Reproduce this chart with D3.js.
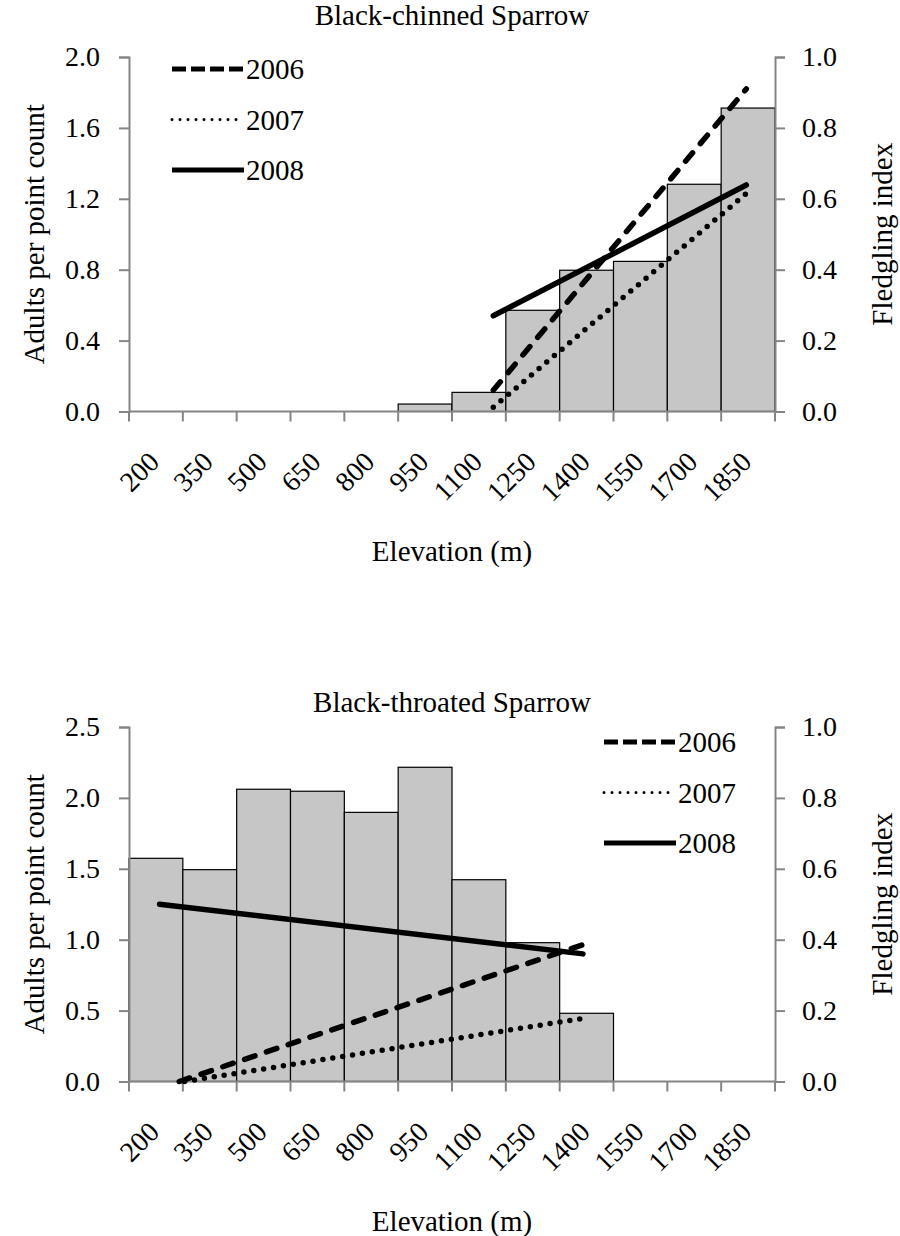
<!DOCTYPE html>
<html>
<head>
<meta charset="utf-8">
<script src="https://cdn.jsdelivr.net/npm/d3@7"></script>
<style>
  html, body { margin: 0; padding: 0; background: #fff; }
  svg { display: block; }
  svg text { font-family: "Liberation Serif", "Tinos", "Times New Roman", Times, "Nimbus Roman", "Nimbus Roman No9 L", "FreeSerif", "Noto Serif", "DejaVu Serif", serif; fill: #000; }
</style>
</head>
<body>
<svg id="chart" width="900" height="1236"></svg>
<script>
// Elevation classes (m), lower bound of each 150 m bin
const elevations = [200, 350, 500, 650, 800, 950, 1100, 1250, 1400, 1550, 1700, 1850];

// Adults per point count by elevation class
const chinnedAdults  = [0, 0, 0, 0, 0, 0.042, 0.108, 0.571, 0.797, 0.847, 1.282, 1.712];
const throatedAdults = [1.574, 1.494, 2.061, 2.047, 1.898, 2.216, 1.423, 0.979, 0.481, 0, 0, 0];

// Fledgling index trend lines: [elevation, index] endpoints
const chinned2006 = [[1140, 0.06], [1845, 0.91]];
const chinned2007 = [[1140, 0.012], [1845, 0.615]];
const chinned2008 = [[1140, 0.27], [1845, 0.639]];
const throated2006 = [[265, 0.0], [1390, 0.386]];
const throated2007 = [[280, 0.0], [1390, 0.178]];
const throated2008 = [[210, 0.5], [1390, 0.36]];

const years = ["2006", "2007", "2008"];

// Axis tick values
const chinnedTicks  = [0, 0.4, 0.8, 1.2, 1.6, 2.0];
const throatedTicks = [0, 0.5, 1.0, 1.5, 2.0, 2.5];
const fledgeTicks   = [0, 0.2, 0.4, 0.6, 0.8, 1.0];

const styles = {
  "2006": { width: 5.5, dash: "11 12", cap: "round" },
  "2007": { width: 5.5, dash: "0 10", cap: "round" },
  "2008": { width: 5.5, dash: null, cap: "round" }
};

const serif = '"Liberation Serif", Tinos, "Times New Roman", Times, "Nimbus Roman", "FreeSerif", "Noto Serif", "DejaVu Serif", serif';
const svg = d3.select("#chart");
const axisGray = "#858585";
const barFill = "#c6c6c6";
const left = 129, right = 775;

function panel(opts) {
  const g = svg.append("g").attr("font-family", serif);
  const top = opts.top, bottom = opts.bottom;

  const band = d3.scaleBand().domain(elevations).range([left, right]).paddingInner(0).paddingOuter(0);
  const xElev = d3.scaleLinear().domain([125, 1925]).range([left, right]);
  const yL = d3.scaleLinear().domain([0, opts.yMax]).range([bottom, top]);
  const yR = d3.scaleLinear().domain([0, 1]).range([bottom, top]);

  // Histogram bars
  g.selectAll("rect.bar")
    .data(elevations.map((e, i) => ({ e, v: opts.adults[i] })).filter(d => d.v > 0))
    .join("rect")
    .attr("class", "bar")
    .attr("x", d => band(d.e))
    .attr("width", band.bandwidth())
    .attr("y", d => yL(d.v))
    .attr("height", d => yL(0) - yL(d.v))
    .attr("fill", barFill)
    .attr("stroke", "#000")
    .attr("stroke-width", 1.2);

  // Left axis
  const axL = d3.axisLeft(yL).tickValues(opts.leftTicks).tickFormat(d3.format(".1f")).tickSize(10).tickPadding(19);
  const gL = g.append("g").attr("transform", `translate(${left},0)`).call(axL);
  // Right axis
  const axR = d3.axisRight(yR).tickValues(fledgeTicks).tickFormat(d3.format(".1f")).tickSize(10).tickPadding(17);
  const gR = g.append("g").attr("transform", `translate(${right},0)`).call(axR);
  // Bottom axis: ticks on bin boundaries
  const boundaries = d3.range(13).map(i => left + i * band.bandwidth());
  const gB = g.append("g");
  gB.append("line").attr("x1", left).attr("x2", right).attr("y1", bottom).attr("y2", bottom)
    .attr("stroke", axisGray).attr("stroke-width", 2);
  gB.selectAll("line.tk").data(boundaries).join("line").attr("class", "tk")
    .attr("x1", d => d).attr("x2", d => d).attr("y1", bottom).attr("y2", bottom + 10)
    .attr("stroke", axisGray).attr("stroke-width", 2);
  gB.selectAll("text").data(elevations).join("text")
    .attr("text-anchor", "end")
    .attr("font-size", 28)
    .attr("transform", d => `translate(${band(d) + band.bandwidth() / 2 + 5},${bottom + 52}) rotate(-45)`)
    .text(d => d);

  [gL, gR].forEach(a => {
    a.attr("font-family", serif);
    a.select(".domain").attr("stroke", axisGray).attr("stroke-width", 2);
    a.selectAll(".tick line").attr("stroke", axisGray).attr("stroke-width", 2);
    a.selectAll(".tick text").attr("font-size", 28).attr("fill", "#000");
  });

  // Trend lines
  const line = d3.line().x(d => xElev(d[0])).y(d => yR(d[1]));
  opts.trends.forEach((pts, i) => {
    const s = styles[years[i]];
    g.append("path").attr("d", line(pts)).attr("fill", "none").attr("stroke", "#000")
      .attr("stroke-width", s.width).attr("stroke-linecap", s.cap)
      .attr("stroke-dasharray", s.dash);
  });

  // Legend
  years.forEach((yr, i) => {
    const s = styles[yr];
    const ly = opts.legendY + i * opts.legendGap;
    g.append("line").attr("x1", opts.legendX).attr("x2", opts.legendX + 72).attr("y1", ly).attr("y2", ly)
      .attr("stroke", "#000").attr("stroke-width", yr === "2007" ? 3 : s.width - 0.5)
      .attr("stroke-linecap", yr === "2007" ? "round" : "butt")
      .attr("stroke-dasharray", yr === "2006" ? "14 5" : (yr === "2007" ? "0 8" : null));
    g.append("text").attr("x", opts.legendX + 74).attr("y", ly + 10).attr("font-size", 29).text(yr);
  });

  // Titles
  g.append("text").attr("x", (left + right) / 2).attr("y", opts.titleY).attr("text-anchor", "middle")
    .attr("font-size", 29).text(opts.title);
  g.append("text").attr("x", (left + right) / 2).attr("y", bottom + 149).attr("text-anchor", "middle")
    .attr("font-size", 29).text("Elevation (m)");
  g.append("text").attr("transform", `translate(44,${(top + bottom) / 2}) rotate(-90)`).attr("text-anchor", "middle")
    .attr("font-size", 29).text("Adults per point count");
  g.append("text").attr("transform", `translate(892,${(top + bottom) / 2}) rotate(-90)`).attr("text-anchor", "middle")
    .attr("font-size", 29).text("Fledgling index");
}

panel({
  top: 57, bottom: 411.5, yMax: 2.0, adults: chinnedAdults, leftTicks: chinnedTicks,
  trends: [chinned2006, chinned2007, chinned2008],
  legendX: 172, legendY: 69, legendGap: 50.5, title: "Black-chinned Sparrow", titleY: 25
});
panel({
  top: 727, bottom: 1081.5, yMax: 2.5, adults: throatedAdults, leftTicks: throatedTicks,
  trends: [throated2006, throated2007, throated2008],
  legendX: 604, legendY: 742, legendGap: 50.5, title: "Black-throated Sparrow", titleY: 712
});
</script>
</body>
</html>
